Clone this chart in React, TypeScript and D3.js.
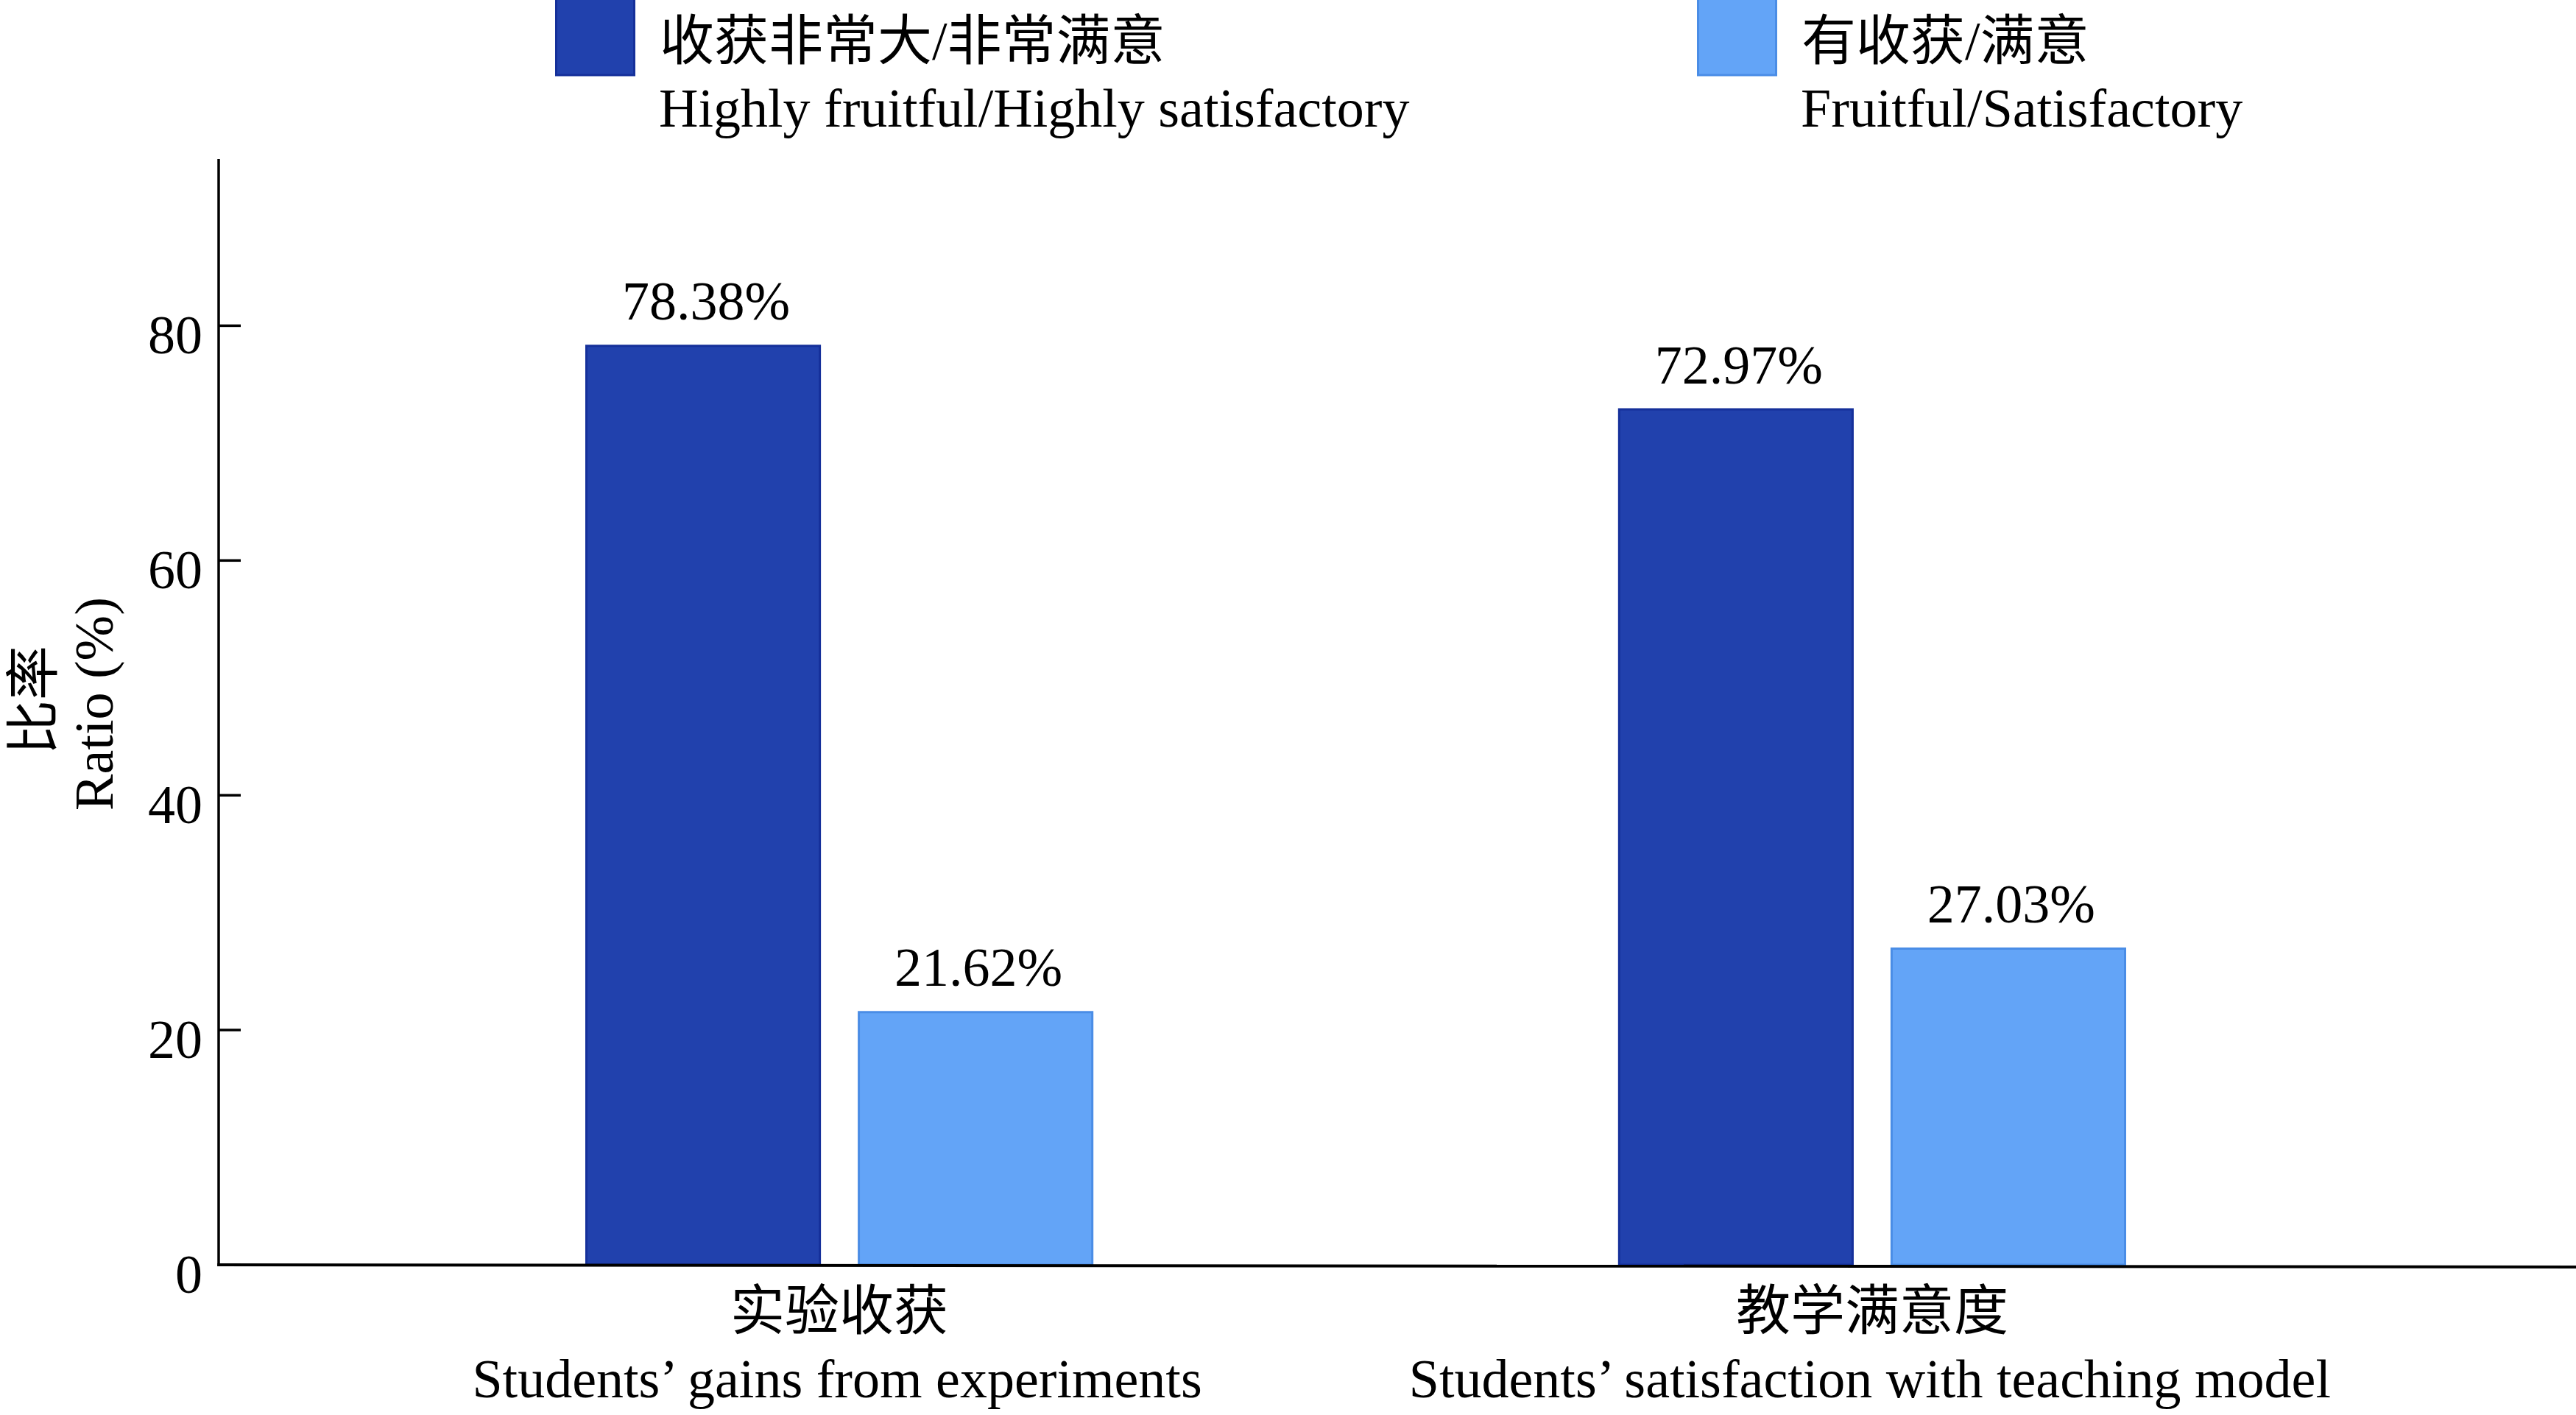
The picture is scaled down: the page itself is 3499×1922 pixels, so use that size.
import * as d3 from 'd3';

const categoriesZh = ['实验收获', '教学满意度'];
const categoriesEn = ['Students’ gains from experiments', 'Students’ satisfaction with teaching model'];
const seriesZh = ['收获非常大/非常满意', '有收获/满意'];
const seriesEn = ['Highly fruitful/Highly satisfactory', 'Fruitful/Satisfactory'];
const highlyValues = [78.38, 72.97];
const fruitfulValues = [21.62, 27.03];
const yTicks = [0, 20, 40, 60, 80];

const fills = ['#2141ad', '#63a4f7'];
const strokes = ['#15309a', '#4a8de6'];

const W = 3499;
const H = 1922;
const FONT = "'Liberation Serif', 'Times New Roman', 'Noto Sans CJK SC', serif";

export default function App() {
  const axisX = 297;
  const baseY = 1718;

  const y = d3.scaleLinear().domain([0, 94.2]).range([baseY, 216]);
  const x0 = d3.scaleBand<string>().domain(categoriesZh).range([795, 2888]).paddingInner(0.508).paddingOuter(0);
  const x1 = d3.scaleBand<number>().domain([0, 1]).range([0, x0.bandwidth()]).paddingInner(0.135);

  const series = [highlyValues, fruitfulValues];
  const legendX = [754, 2305];

  return (
    <svg
      width={W}
      height={H}
      style={{ position: 'absolute', left: 0, top: 0, background: '#fff' }}
      fontFamily={FONT}
    >
      <rect width={W} height={H} fill="#fff" />

      {/* legend */}
      {seriesZh.map((s, i) => (
        <g key={s} transform={`translate(${legendX[i]},0)`}>
          <rect x={1.5} y={-10} width={106} height={112} fill={fills[i]} stroke={strokes[i]} strokeWidth={3} />
          <text x={142} y={81} fontSize={74} fill="#000">{s}</text>
          <text x={141} y={172} fontSize={74} fill="#000">{seriesEn[i]}</text>
        </g>
      ))}

      {/* bars */}
      {categoriesZh.map((c, ci) => (
        <g key={c} transform={`translate(${x0(c)},0)`}>
          {series.map((vals, si) => {
            const v = vals[ci];
            const bx = x1(si)!;
            const bw = x1.bandwidth();
            return (
              <g key={si}>
                <rect
                  x={bx + 1.5}
                  y={y(v) + 1.5}
                  width={bw - 3}
                  height={baseY - y(v) - 1.5}
                  fill={fills[si]}
                  stroke={strokes[si]}
                  strokeWidth={3}
                />
                <text x={bx + bw / 2 + 4} y={y(v) - 34} fontSize={74} textAnchor="middle" fill="#000">
                  {v.toFixed(2)}%
                </text>
              </g>
            );
          })}
        </g>
      ))}

      {/* y axis */}
      <line x1={axisX} x2={axisX} y1={216} y2={baseY + 2} stroke="#000" strokeWidth={3.5} />
      {yTicks.map((t) => (
        <g key={t}>
          <line x1={axisX} x2={axisX + 30} y1={y(t)} y2={y(t)} stroke="#000" strokeWidth={3.5} />
          <text x={275} y={y(t) + 38} fontSize={74} textAnchor="end" fill="#000">{t}</text>
        </g>
      ))}

      {/* x axis */}
      <line x1={axisX - 1.75} x2={W} y1={baseY} y2={baseY + 3} stroke="#000" strokeWidth={4} />
      {categoriesZh.map((c, i) => {
        const cx = x0(c)! + x0.bandwidth() / 2;
        return (
          <g key={c}>
            <text x={cx} y={1806} fontSize={74} textAnchor="middle" fill="#000">{c}</text>
            <text x={cx - 3} y={1898} fontSize={74} textAnchor="middle" fill="#000">{categoriesEn[i]}</text>
          </g>
        );
      })}

      {/* y title */}
      <text transform="translate(71,951) rotate(-90)" fontSize={74} textAnchor="middle" fill="#000">比率</text>
      <text transform="translate(153,956) rotate(-90)" fontSize={74} textAnchor="middle" fill="#000">Ratio (%)</text>
    </svg>
  );
}
